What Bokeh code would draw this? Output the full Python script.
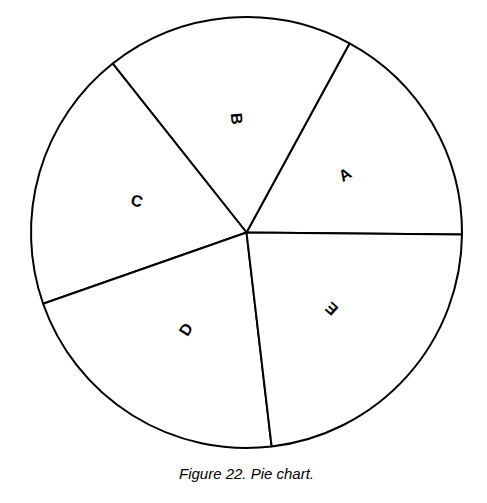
import numpy as np
from bokeh.plotting import figure
from bokeh.models import Range1d, ColumnDataSource
from bokeh.core.properties import value
from bokeh.embed import file_html
from bokeh.resources import INLINE

# Data
categories = ["A", "B", "C", "D", "E"]
shares = [17.2, 18.6, 19.7, 21.5, 23.0]
caption = "Figure 22. Pie chart."

# Layout (page pixel coordinates, y pointing up as negative page y)
W, H = 471, 487
cx, cy = 246, -232
R = 215.5
start_deg = -0.5

p = figure(width=W, height=H, output_backend="svg", toolbar_location=None,
           x_range=Range1d(0, W), y_range=Range1d(-H, 0),
           min_border=0, outline_line_color=None)
p.axis.visible = False
p.grid.visible = False
p.background_fill_color = "white"
p.border_fill_color = "white"

vals = np.array(shares, dtype=float)
ang = vals / vals.sum() * 2 * np.pi
ends = np.deg2rad(start_deg) + np.cumsum(ang)
starts = ends - ang
mids = (starts + ends) / 2

src = ColumnDataSource(dict(cat=categories, start=starts, end=ends,
                            x=[cx] * len(vals), y=[cy] * len(vals)))
p.wedge(x="x", y="y", radius=R, start_angle="start", end_angle="end",
        fill_color="white", line_color="black", line_width=2, source=src)

lr = 0.53 * R
rot = [m if i == 0 else m - np.pi for i, m in enumerate(mids)]
lsrc = ColumnDataSource(dict(x=cx + lr * np.cos(mids), y=cy + lr * np.sin(mids),
                             t=categories, a=rot))
p.text(x="x", y="y", text="t", angle="a", source=lsrc, text_align="center",
       text_baseline="middle", text_font=value("Liberation Sans"),
       text_font_size="16px", text_font_style="bold", text_color="black")

p.text(x=[246], y=[-473], text=[caption], text_align="center",
       text_baseline="middle", text_font=value("Liberation Sans"),
       text_font_size="15px", text_font_style="italic", text_color="black")

open("out.html", "w").write(file_html(p, INLINE))
